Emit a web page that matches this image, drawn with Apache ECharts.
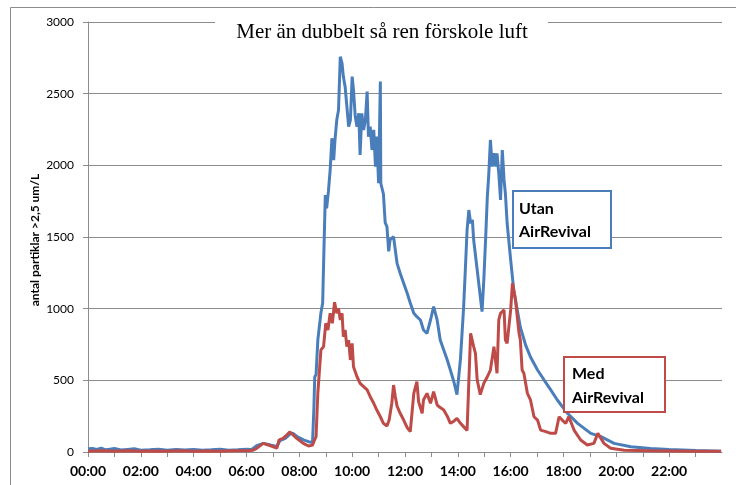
<!DOCTYPE html>
<html>
<head>
<meta charset="utf-8">
<script src="https://cdn.jsdelivr.net/npm/echarts@6/dist/echarts.min.js"></script>
<style>
  html, body { margin: 0; padding: 0; background: #fff; }
  #chart { width: 736px; height: 485px; }
</style>
</head>
<body>
<div id="chart"></div>
<script>
  // tid i minuter efter midnatt, värden i partiklar/L
  var utanTimes = [0, 10, 20, 30, 40, 50, 60, 75, 90, 105, 120, 140, 160, 180, 200, 220, 240, 260, 280, 300, 320, 340, 360, 372,
    383, 398, 413, 429, 436, 448, 459, 465, 474, 489, 501, 510, 513, 515, 518, 522, 529, 533, 535, 539, 542, 546, 550, 554, 558,
    561, 565, 569, 573, 577, 580, 584, 588, 592, 596, 600, 603, 607, 611, 615, 618, 622, 626, 630, 634, 637, 641, 645, 649, 653,
    656, 660, 664, 665, 671, 675, 679, 683, 686, 690, 694, 702, 709, 717, 725, 732, 740, 747, 755, 762, 770, 778, 785, 793, 800,
    808, 816, 823, 831, 838, 846, 853, 857, 861, 865, 869, 873, 876, 884, 891, 895, 899, 903, 907, 910, 914, 918, 922, 926, 929,
    933, 937, 941, 945, 948, 952, 960, 967, 975, 982, 994, 1005, 1021, 1036, 1051, 1066, 1089, 1112, 1142, 1165, 1195, 1233,
    1278, 1320, 1380, 1438];
  var utanValues = [22, 25, 18, 27, 15, 20, 24, 14, 18, 22, 13, 16, 20, 12, 17, 14, 18, 12, 15, 19, 13, 16, 20, 18,
    44, 60, 50, 38, 80, 95, 125, 132, 110, 85, 72, 66, 300, 525, 540, 780, 970, 1040, 1300, 1793, 1700, 1816, 1967, 2189, 2037,
    2177, 2316, 2386, 2758, 2712, 2619, 2549, 2409, 2270, 2316, 2619, 2526, 2340, 2270, 2363, 2072, 2363, 2247, 2316, 2514, 2200, 2270, 2107, 2247, 1990,
    2200, 1875, 2584, 1875, 1800, 1600, 1572, 1400, 1480, 1479, 1502, 1316, 1247, 1177, 1107, 1040, 968, 944, 921, 851, 828, 921, 1014, 921, 781,
    712, 642, 572, 490, 400, 650, 1000, 1270, 1549, 1688, 1596, 1619, 1479, 1270, 1084, 979, 1200, 1479, 1781, 1921, 2177, 1991, 2084, 1991, 2084,
    1944, 1758, 2107, 1898, 1805, 1596, 1340, 1130, 990, 870, 746, 663, 572, 502, 433, 363, 270, 200, 130, 107, 60, 37,
    24, 18, 10, 5];

  var medTimes = [0, 30, 60, 90, 120, 150, 180, 210, 240, 270, 300, 330, 360, 375,
    383, 398, 413, 429, 434, 443, 452, 458, 464, 474, 489, 501, 510, 514, 518, 522, 529, 535, 540, 545, 550, 555, 560, 565, 569,
    573, 577, 580, 584, 588, 592, 596, 600, 603, 611, 618, 626, 634, 641, 649, 656, 664, 671, 679, 684, 690, 694, 698, 702, 709,
    717, 725, 732, 740, 747, 751, 759, 762, 770, 778, 785, 793, 800, 808, 816, 823, 831, 838, 846, 853, 861, 869, 873, 876, 880,
    884, 891, 899, 903, 907, 914, 922, 929, 933, 937, 941, 945, 948, 952, 956, 960, 964, 967, 971, 975, 979, 982, 986, 990, 998,
    1005, 1013, 1021, 1028, 1040, 1051, 1062, 1070, 1077, 1085, 1092, 1104, 1119, 1134, 1149, 1158, 1172, 1187, 1218, 1278, 1369, 1438];
  var medValues = [5, 8, 6, 9, 5, 7, 6, 8, 5, 7, 6, 8, 9, 12,
    25, 60, 45, 28, 85, 95, 120, 140, 125, 95, 60, 42, 48, 80, 107, 409, 712, 735, 898, 851, 968, 898, 1045, 968, 1002,
    921, 968, 804, 851, 735, 781, 642, 758, 595, 525, 479, 456, 433, 386, 340, 293, 246, 200, 181, 223, 340, 467, 386, 320, 270,
    223, 170, 142, 409, 491, 350, 270, 363, 409, 340, 421, 328, 310, 293, 250, 200, 215, 235, 200, 177, 150, 828, 839, 735, 688,
    502, 400, 479, 502, 525, 572, 735, 549, 921, 968, 979, 991, 781, 758, 758, 991, 1177, 1177, 1060, 1060, 828, 781, 572, 549, 409,
    363, 246, 223, 153, 142, 130, 130, 246, 223, 200, 246, 153, 84, 49, 60, 130, 60, 26, 12, 8, 6, 5];

  var yTicks = [0, 500, 1000, 1500, 2000, 2500, 3000];

  function pairs(times, values) {
    return times.map(function (t, i) { return [t, values[i]]; });
  }
  function hhmm(m) {
    var h = Math.floor(m / 60);
    return (h < 10 ? '0' : '') + h + ':00';
  }

  var myChart = echarts.init(document.getElementById('chart'));
  myChart.setOption({
    animation: false,
    backgroundColor: '#fff',
    grid: { left: 88, right: 14, top: 22, bottom: 33 },
    xAxis: {
      type: 'value',
      min: 0,
      max: 1440,
      interval: 60,
      axisLine: { show: true, lineStyle: { color: '#8c8c8c' } },
      axisTick: { show: true, length: 5, lineStyle: { color: '#8c8c8c' } },
      splitLine: { show: false },
      axisLabel: {
        margin: 12,
        color: '#000',
        fontFamily: 'Lato',
        fontWeight: 'bold',
        fontSize: 14,
        showMaxLabel: false,
        formatter: function (v) { return (v % 120 === 0 && v < 1440) ? hhmm(v) : ''; }
      }
    },
    yAxis: {
      type: 'value',
      min: yTicks[0],
      max: yTicks[yTicks.length - 1],
      interval: 500,
      axisLine: { show: true, lineStyle: { color: '#8c8c8c' } },
      axisTick: { show: true, length: 5, lineStyle: { color: '#8c8c8c' } },
      splitLine: { lineStyle: { color: '#8c8c8c', width: 1 } },
      axisLabel: {
        margin: 14, color: '#000', fontFamily: 'Lato', fontSize: 12,
        formatter: function (v) { return String(v); }
      }
    },
    series: [
      {
        name: 'Utan AirRevival',
        type: 'line',
        data: pairs(utanTimes, utanValues),
        showSymbol: false,
        lineStyle: { color: '#4A7EBB', width: 3 },
        itemStyle: { color: '#4A7EBB' }
      },
      {
        name: 'Med AirRevival',
        type: 'line',
        data: pairs(medTimes, medValues),
        showSymbol: false,
        lineStyle: { color: '#BE4B48', width: 3 },
        itemStyle: { color: '#BE4B48' }
      }
    ],
    graphic: [
      { type: 'rect', z: 20, silent: true, shape: { x: 10.5, y: 7.5, width: 760, height: 500 },
        style: { fill: 'none', stroke: '#8c8c8c', lineWidth: 1 } },
      { type: 'rect', z: 20, shape: { x: 215, y: 12, width: 333, height: 30 }, style: { fill: '#fff' } },
      { type: 'text', z: 21, x: 382, y: 32,
        style: { text: 'Mer än dubbelt så ren förskole luft', fill: '#000',
          fontFamily: 'Liberation Serif', fontSize: 21, align: 'center', verticalAlign: 'middle' } },
      { type: 'text', z: 21, x: 35, y: 240, rotation: Math.PI / 2,
        style: { text: 'antal partiklar >2,5 um/L', fill: '#000',
          fontFamily: 'Lato', fontWeight: 'bold', fontSize: 12, align: 'center', verticalAlign: 'middle' } },
      { type: 'rect', z: 20, shape: { x: 513, y: 191, width: 98, height: 57 },
        style: { fill: '#fff', stroke: '#4A7EBB', lineWidth: 2 } },
      { type: 'text', z: 21, x: 519, y: 197,
        style: { text: 'Utan\nAirRevival', fill: '#000', fontFamily: 'Lato', fontWeight: 'bold',
          fontSize: 16, lineHeight: 23 } },
      { type: 'rect', z: 20, shape: { x: 564, y: 357, width: 101, height: 55 },
        style: { fill: '#fff', stroke: '#BE4B48', lineWidth: 2 } },
      { type: 'text', z: 21, x: 572, y: 362,
        style: { text: 'Med\nAirRevival', fill: '#000', fontFamily: 'Lato', fontWeight: 'bold',
          fontSize: 16, lineHeight: 24 } }
    ]
  });
</script>
</body>
</html>
